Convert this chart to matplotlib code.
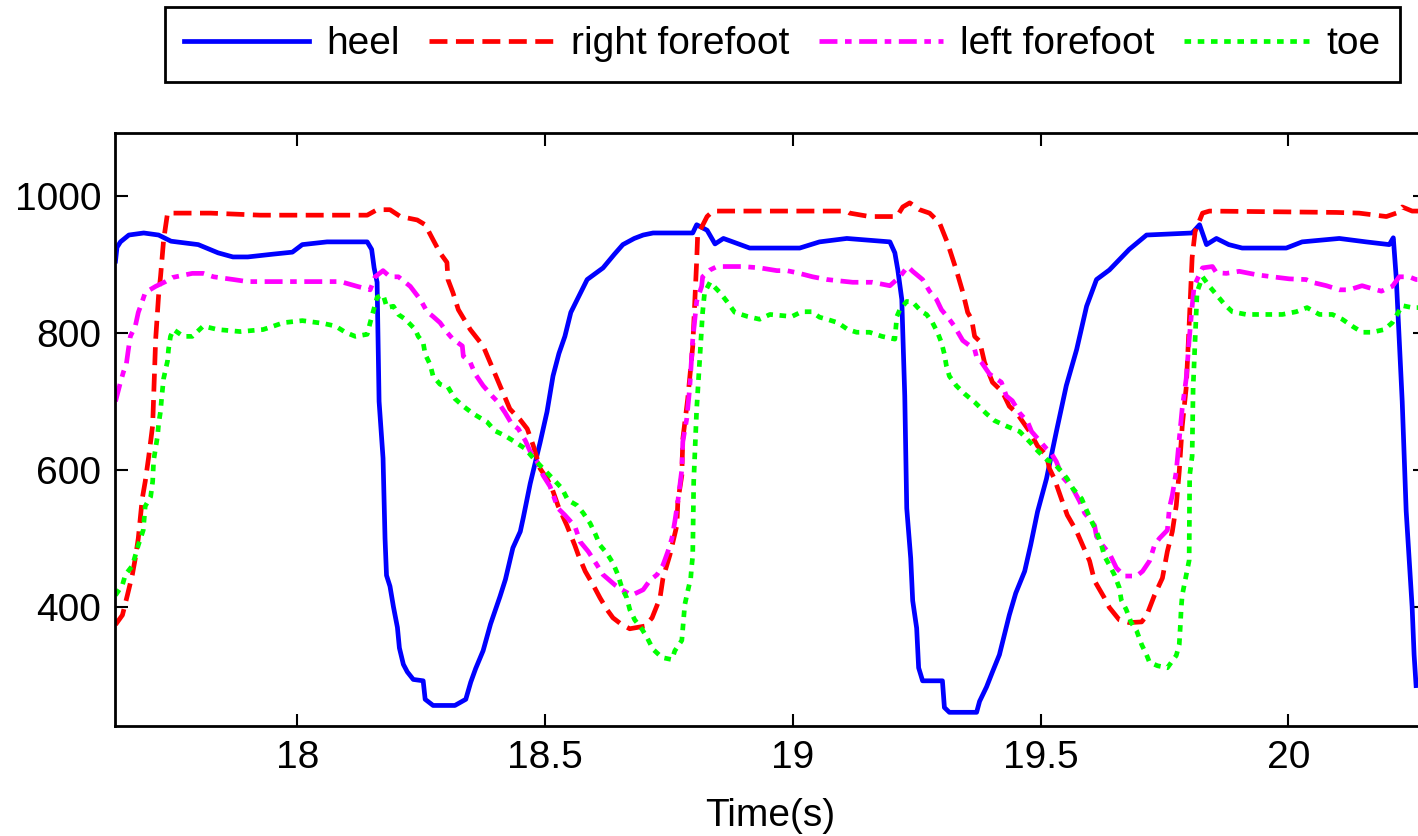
import numpy as np
import matplotlib.pyplot as plt

# (time in s, reading) pairs
heel = [
    (17.633, 905), (17.636, 925), (17.643, 933), (17.660, 943), (17.690, 946),
    (17.720, 943), (17.745, 934), (17.800, 929), (17.840, 917), (17.870, 911),
    (17.900, 911), (17.950, 915), (17.990, 918), (18.010, 929), (18.060, 933),
    (18.141, 933), (18.150, 922), (18.155, 895), (18.161, 874), (18.165, 700),
    (18.173, 617), (18.177, 500), (18.180, 446), (18.187, 430), (18.194, 400),
    (18.202, 370), (18.206, 340), (18.214, 316), (18.222, 305), (18.234, 294),
    (18.254, 292), (18.258, 265), (18.274, 256), (18.318, 256), (18.340, 265),
    (18.350, 290), (18.360, 310), (18.375, 336), (18.390, 375), (18.409, 415),
    (18.420, 440), (18.435, 486), (18.450, 510), (18.456, 530), (18.470, 580),
    (18.480, 610), (18.490, 640), (18.504, 685), (18.516, 737), (18.528, 770),
    (18.540, 795), (18.552, 830), (18.565, 849), (18.585, 878), (18.617, 895),
    (18.640, 915), (18.657, 929), (18.680, 938), (18.698, 943), (18.718, 946),
    (18.798, 946), (18.806, 958), (18.827, 950), (18.843, 930), (18.860, 938),
    (18.879, 933), (18.913, 924), (19.014, 924), (19.054, 933), (19.109, 938),
    (19.196, 933), (19.206, 917), (19.212, 892), (19.220, 849), (19.222, 801),
    (19.226, 708), (19.230, 544), (19.238, 471), (19.242, 409), (19.250, 369),
    (19.254, 311), (19.262, 292), (19.302, 292), (19.306, 253), (19.316, 246),
    (19.371, 246), (19.377, 262), (19.391, 283), (19.403, 305), (19.417, 330),
    (19.437, 388), (19.450, 420), (19.468, 452), (19.480, 490), (19.494, 539),
    (19.512, 587), (19.532, 656), (19.552, 723), (19.573, 776), (19.593, 839),
    (19.613, 878), (19.639, 892), (19.679, 922), (19.714, 943), (19.806, 946),
    (19.821, 958), (19.835, 929), (19.855, 938), (19.880, 929), (19.907, 924),
    (19.996, 924), (20.028, 933), (20.103, 938), (20.157, 933), (20.204, 929),
    (20.212, 939), (20.218, 880), (20.230, 700), (20.238, 540), (20.244, 470),
    (20.250, 400), (20.254, 330), (20.258, 285),
]

right_forefoot = [
    (17.633, 374), (17.647, 388), (17.657, 417), (17.667, 447), (17.673, 471),
    (17.679, 500), (17.687, 558), (17.693, 583), (17.700, 619), (17.708, 665),
    (17.714, 790), (17.720, 855), (17.724, 883), (17.730, 935), (17.738, 975),
    (17.825, 975), (17.925, 972), (18.141, 972), (18.161, 980), (18.187, 980),
    (18.208, 970), (18.242, 965), (18.258, 958), (18.274, 936), (18.288, 917),
    (18.302, 903), (18.304, 878), (18.314, 859), (18.325, 834), (18.349, 805),
    (18.375, 781), (18.395, 747), (18.409, 723), (18.429, 689), (18.450, 673),
    (18.464, 660), (18.476, 636), (18.490, 602), (18.504, 587), (18.514, 573),
    (18.526, 548), (18.544, 519), (18.560, 490), (18.567, 476), (18.581, 452),
    (18.597, 432), (18.611, 413), (18.625, 396), (18.637, 384), (18.655, 374),
    (18.671, 368), (18.702, 372), (18.716, 384), (18.732, 413), (18.738, 442),
    (18.752, 476), (18.766, 519), (18.768, 554), (18.776, 592), (18.778, 645),
    (18.788, 704), (18.798, 780), (18.806, 905), (18.808, 943), (18.827, 970),
    (18.839, 978), (19.109, 978), (19.115, 975), (19.155, 970), (19.210, 970),
    (19.222, 984), (19.236, 990), (19.256, 980), (19.276, 975), (19.296, 961),
    (19.312, 932), (19.330, 892), (19.343, 860), (19.353, 830), (19.361, 820),
    (19.367, 795), (19.377, 788), (19.387, 757), (19.403, 728), (19.423, 714),
    (19.437, 693), (19.452, 683), (19.478, 656), (19.494, 635), (19.512, 621),
    (19.518, 602), (19.528, 587), (19.542, 558), (19.554, 534), (19.573, 510),
    (19.585, 490), (19.599, 467), (19.609, 438), (19.629, 413), (19.639, 399),
    (19.659, 381), (19.679, 377), (19.704, 378), (19.714, 387), (19.730, 417),
    (19.746, 442), (19.756, 481), (19.766, 510), (19.774, 548), (19.780, 598),
    (19.786, 664), (19.794, 720), (19.800, 812), (19.806, 910), (19.812, 948),
    (19.827, 975), (19.841, 978), (20.097, 976), (20.143, 975), (20.198, 970),
    (20.218, 975), (20.230, 984), (20.250, 978), (20.270, 978),
]

left_forefoot = [
    (17.633, 700), (17.643, 728), (17.649, 743), (17.655, 755), (17.659, 776),
    (17.663, 795), (17.673, 810), (17.679, 830), (17.687, 846), (17.693, 859),
    (17.714, 868), (17.734, 875), (17.748, 881), (17.788, 887), (17.810, 887),
    (17.831, 882), (17.871, 878), (17.899, 875), (17.952, 875), (17.992, 875),
    (18.020, 875), (18.060, 875), (18.087, 875), (18.121, 868), (18.147, 863),
    (18.157, 882), (18.173, 891), (18.187, 882), (18.204, 882), (18.228, 868),
    (18.248, 849), (18.262, 831), (18.274, 824), (18.288, 815), (18.302, 801),
    (18.314, 791), (18.333, 781), (18.335, 766), (18.349, 757), (18.359, 740),
    (18.375, 723), (18.393, 708), (18.405, 699), (18.419, 684), (18.433, 667),
    (18.446, 660), (18.460, 643), (18.470, 627), (18.484, 612), (18.496, 592),
    (18.510, 576), (18.526, 544), (18.540, 534), (18.560, 518), (18.571, 495),
    (18.587, 481), (18.605, 461), (18.617, 447), (18.641, 432), (18.655, 425),
    (18.675, 417), (18.698, 425), (18.712, 439), (18.726, 447), (18.738, 461),
    (18.748, 481), (18.756, 500), (18.762, 525), (18.768, 554), (18.776, 600),
    (18.778, 641), (18.786, 675), (18.792, 720), (18.798, 790), (18.806, 846),
    (18.816, 868), (18.818, 882), (18.833, 892), (18.847, 897), (18.899, 897),
    (18.934, 895), (18.968, 891), (18.988, 891), (19.008, 888), (19.040, 882),
    (19.069, 878), (19.121, 874), (19.161, 874), (19.196, 869), (19.216, 882),
    (19.232, 897), (19.242, 890), (19.262, 878), (19.276, 861), (19.290, 849),
    (19.300, 834), (19.316, 820), (19.326, 810), (19.343, 789), (19.367, 776),
    (19.371, 765), (19.381, 757), (19.397, 740), (19.421, 728), (19.431, 708),
    (19.443, 701), (19.458, 683), (19.474, 670), (19.482, 656), (19.494, 646),
    (19.512, 631), (19.522, 624), (19.532, 612), (19.544, 590), (19.565, 573),
    (19.579, 554), (19.589, 537), (19.609, 519), (19.613, 503), (19.625, 490),
    (19.639, 478), (19.653, 457), (19.669, 445), (19.694, 445), (19.706, 452),
    (19.720, 467), (19.730, 490), (19.740, 500), (19.756, 512), (19.760, 544),
    (19.766, 563), (19.774, 598), (19.780, 645), (19.786, 690), (19.794, 733),
    (19.800, 790), (19.806, 839), (19.810, 868), (19.816, 878), (19.827, 895),
    (19.847, 897), (19.855, 888), (19.875, 887), (19.901, 890), (19.936, 885),
    (19.968, 882), (20.002, 879), (20.036, 878), (20.048, 874), (20.077, 869),
    (20.103, 863), (20.123, 863), (20.149, 869), (20.163, 866), (20.188, 861),
    (20.210, 868), (20.224, 882), (20.244, 882), (20.258, 878), (20.270, 878),
]

toe = [
    (17.633, 417), (17.647, 432), (17.653, 447), (17.667, 460), (17.679, 490),
    (17.689, 512), (17.693, 547), (17.704, 561), (17.708, 583), (17.710, 614),
    (17.718, 650), (17.720, 667), (17.724, 686), (17.726, 704), (17.730, 733),
    (17.738, 759), (17.740, 776), (17.744, 795), (17.750, 805), (17.770, 795),
    (17.788, 795), (17.810, 810), (17.839, 805), (17.885, 802), (17.931, 805),
    (17.952, 810), (17.972, 815), (18.010, 818), (18.052, 814), (18.077, 810),
    (18.097, 801), (18.117, 795), (18.141, 798), (18.147, 815), (18.153, 831),
    (18.161, 852), (18.173, 856), (18.181, 837), (18.194, 839), (18.204, 827),
    (18.218, 820), (18.238, 805), (18.244, 795), (18.254, 786), (18.258, 769),
    (18.268, 754), (18.274, 737), (18.288, 725), (18.304, 721), (18.318, 704),
    (18.335, 693), (18.355, 682), (18.383, 670), (18.399, 657), (18.419, 650),
    (18.439, 641), (18.460, 631), (18.480, 614), (18.500, 599), (18.516, 587),
    (18.534, 573), (18.546, 556), (18.565, 548), (18.577, 537), (18.591, 522),
    (18.601, 507), (18.611, 490), (18.625, 478), (18.637, 464), (18.647, 447),
    (18.655, 428), (18.665, 413), (18.671, 396), (18.681, 381), (18.696, 367),
    (18.706, 355), (18.718, 338), (18.736, 326), (18.756, 323), (18.762, 336),
    (18.776, 351), (18.778, 369), (18.780, 387), (18.782, 403), (18.788, 423),
    (18.794, 442), (18.796, 460), (18.798, 474), (18.800, 583), (18.806, 689),
    (18.812, 760), (18.818, 830), (18.822, 859), (18.833, 874), (18.853, 859),
    (18.867, 846), (18.883, 830), (18.909, 824), (18.933, 820), (18.954, 827),
    (18.998, 824), (19.018, 831), (19.038, 831), (19.054, 823), (19.069, 820),
    (19.091, 815), (19.111, 805), (19.129, 801), (19.155, 801), (19.180, 795),
    (19.206, 791), (19.210, 824), (19.216, 834), (19.230, 846), (19.242, 845),
    (19.260, 831), (19.270, 827), (19.282, 815), (19.292, 801), (19.300, 786),
    (19.306, 769), (19.310, 752), (19.316, 737), (19.330, 723), (19.347, 711),
    (19.367, 699), (19.391, 682), (19.407, 672), (19.431, 664), (19.458, 656),
    (19.478, 641), (19.494, 628), (19.514, 614), (19.524, 612), (19.542, 598),
    (19.554, 587), (19.565, 573), (19.583, 558), (19.593, 541), (19.603, 525),
    (19.613, 510), (19.623, 490), (19.629, 474), (19.639, 461), (19.649, 447),
    (19.659, 428), (19.663, 410), (19.673, 396), (19.683, 377), (19.694, 365),
    (19.704, 345), (19.714, 330), (19.720, 319), (19.736, 314), (19.756, 311),
    (19.774, 329), (19.780, 345), (19.782, 370), (19.784, 399), (19.786, 417),
    (19.794, 446), (19.800, 468), (19.801, 592), (19.806, 620), (19.808, 720),
    (19.812, 790), (19.816, 860), (19.827, 882), (19.841, 868), (19.855, 856),
    (19.871, 842), (19.887, 831), (19.915, 827), (19.988, 827), (20.016, 831),
    (20.038, 837), (20.063, 827), (20.089, 827), (20.109, 820), (20.129, 810),
    (20.149, 801), (20.169, 801), (20.194, 805), (20.210, 815), (20.230, 840),
    (20.250, 837), (20.270, 837),
]

labels = ['heel', 'right forefoot', 'left forefoot', 'toe']
xticks = [18, 18.5, 19, 19.5, 20]
yticks = [400, 600, 800, 1000]

plt.rcParams['font.family'] = ['Liberation Sans', 'DejaVu Sans']
plt.rcParams['font.size'] = 28

fig = plt.figure(figsize=(14.18, 8.36), dpi=100)
ax = fig.add_axes([115 / 1418, 1 - 726 / 836, 1310 / 1418, 593 / 836])

lw = 3.4
styles = [
    dict(color='#0000ff', linestyle='-'),
    dict(color='#ff0000', dashes=(3.8, 1.8)),
    dict(color='#ff00ff', dashes=(3.8, 1.6, 1.4, 1.6)),
    dict(color='#00ff00', dashes=(1.4, 1.4)),
]
for data, lab, st in zip([heel, right_forefoot, left_forefoot, toe], labels, styles):
    arr = np.array(data)
    ax.plot(arr[:, 0], arr[:, 1], lw=lw, label=lab, **st)

ax.set_xlim(17.632, 20.276)
ax.set_ylim(226, 1092)
ax.set_xticks(xticks)
ax.set_xticklabels(['18', '18.5', '19', '19.5', '20'])
ax.set_yticks(yticks)
ax.tick_params(direction='in', length=9, width=1.5, top=True, right=True, pad=10)
for sp in ax.spines.values():
    sp.set_linewidth(2)
ax.set_xlabel('Time(s)', labelpad=16)

leg = fig.legend(loc='upper left', bbox_to_anchor=(165 / 1418, 1 - 7 / 836), ncol=4,
                 frameon=True, fancybox=False, edgecolor='black', framealpha=1,
                 borderaxespad=0, handlelength=3.2, handletextpad=0.45,
                 columnspacing=0.75, borderpad=0.5)
leg.get_frame().set_linewidth(2)

fig.savefig('out.png', dpi=100)
